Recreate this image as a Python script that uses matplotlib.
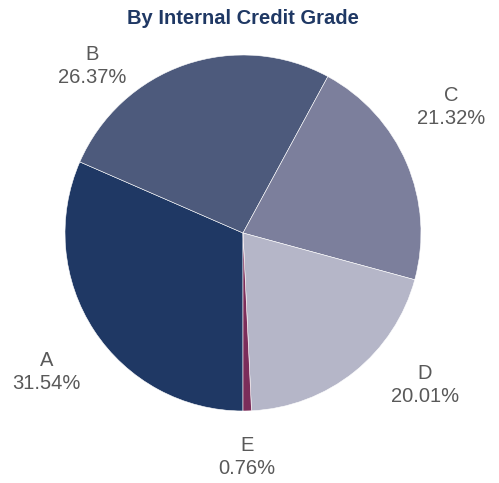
import numpy as np
import matplotlib.pyplot as plt

# chart data
grades = ['A', 'B', 'C', 'D', 'E']
shares = [31.54, 26.37, 21.32, 20.01, 0.76]
colors = ['#1f3864', '#4d5a7c', '#7c7f9c', '#b5b6c8', '#7b2d5a']

# label placement (angle in degrees, distance in radii) - Excel style
lab_ang = [-144.7, 132.1, 31.2, -39.9, -89.0]
lab_dist = [1.35, 1.265, 1.366, 1.332, 1.258]

fig = plt.figure(figsize=(4.99, 4.83), dpi=100)
R = 178
cx, cy = 243, 483 - 233
ax = fig.add_axes([(cx - R) / 499, (cy - R) / 483, 2 * R / 499, 2 * R / 483])

ax.pie(shares, colors=colors, startangle=-90, counterclock=False,
       wedgeprops=dict(edgecolor='white', linewidth=0.4))
ax.set_xlim(-1, 1)
ax.set_ylim(-1, 1)
ax.set_aspect('equal')
ax.axis('off')

for g, s, a, d in zip(grades, shares, lab_ang, lab_dist):
    x = d * np.cos(np.radians(a))
    y = d * np.sin(np.radians(a))
    ax.text(x, y, f'{g}\n{s:.2f}%', ha='center', va='center',
            fontsize=14.5, color='#595959', family='Liberation Sans',
            linespacing=1.22, clip_on=False)

fig.text(243 / 499, 1 - 18 / 483, 'By Internal Credit Grade', ha='center',
         va='center', fontsize=14.5, fontweight='bold', color='#1f3864',
         family='Liberation Sans')

fig.savefig('out.png', dpi=100)
